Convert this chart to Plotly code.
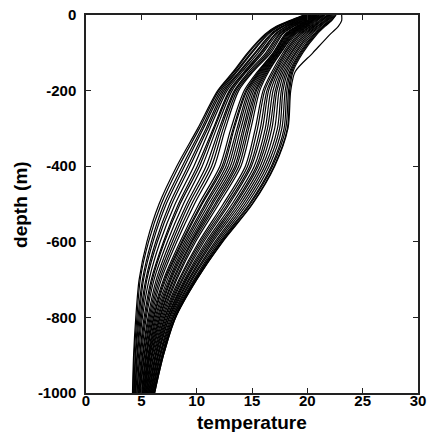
import plotly.graph_objects as go

depths = [0, -15, -30, -50, -100, -150, -200, -300, -400, -500, -600, -700, -800, -900, -1000]

group_a = [
    [19.7, 18.4, 17.2, 16.2, 14.6, 13.3, 11.9, 10.1, 8.2, 6.6, 5.5, 4.8, 4.5, 4.3, 4.2],
    [19.75, 18.5, 17.3, 16.3, 14.7, 13.4, 12.0, 10.25, 8.4, 6.8, 5.65, 4.9, 4.6, 4.35, 4.25],
    [19.8, 18.6, 17.4, 16.4, 14.9, 13.55, 12.15, 10.45, 8.7, 7.05, 5.9, 5.1, 4.7, 4.45, 4.3],
    [19.85, 18.65, 17.5, 16.5, 15.0, 13.65, 12.3, 10.6, 8.9, 7.25, 6.05, 5.2, 4.8, 4.5, 4.35],
    [19.9, 18.8, 17.7, 16.7, 15.25, 13.85, 12.45, 10.85, 9.2, 7.55, 6.3, 5.4, 4.9, 4.6, 4.4],
    [19.95, 18.85, 17.8, 16.8, 15.35, 13.95, 12.6, 11.0, 9.4, 7.75, 6.45, 5.5, 5.0, 4.65, 4.45],
    [20.0, 19.0, 17.9, 16.9, 15.55, 14.1, 12.75, 11.2, 9.75, 8.05, 6.7, 5.7, 5.1, 4.75, 4.5],
    [20.1, 19.1, 18.1, 17.1, 15.75, 14.3, 12.95, 11.5, 10.05, 8.35, 7.0, 5.9, 5.25, 4.85, 4.6],
    [20.1, 19.2, 18.15, 17.15, 15.85, 14.4, 13.05, 11.6, 10.25, 8.5, 7.1, 6.0, 5.35, 4.9, 4.6],
    [20.2, 19.3, 18.3, 17.3, 16.0, 14.5, 13.2, 11.8, 10.5, 8.8, 7.35, 6.15, 5.45, 5.0, 4.7],
    [20.25, 19.4, 18.45, 17.45, 16.25, 14.7, 13.4, 12.05, 10.85, 9.1, 7.6, 6.35, 5.6, 5.1, 4.75],
    [20.3, 19.5, 18.55, 17.55, 16.4, 14.85, 13.5, 12.2, 11.1, 9.3, 7.8, 6.5, 5.7, 5.15, 4.8],
    [20.35, 19.6, 18.7, 17.7, 16.55, 15.0, 13.65, 12.4, 11.35, 9.55, 8.0, 6.65, 5.8, 5.25, 4.85],
    [20.4, 19.7, 18.8, 17.8, 16.7, 15.1, 13.8, 12.6, 11.6, 9.8, 8.2, 6.8, 5.9, 5.3, 4.9],
]

group_b = [
    [20.5, 19.8, 19.0, 18.0, 16.9, 15.5, 14.3, 13.1, 12.1, 10.2, 8.5, 7.0, 6.0, 5.4, 5.0],
    [20.55, 19.9, 19.1, 18.1, 16.95, 15.6, 14.45, 13.3, 12.3, 10.4, 8.65, 7.1, 6.1, 5.45, 5.05],
    [20.6, 19.95, 19.15, 18.15, 17.05, 15.7, 14.55, 13.4, 12.45, 10.5, 8.75, 7.2, 6.15, 5.5, 5.1],
    [20.7, 20.05, 19.25, 18.25, 17.1, 15.8, 14.7, 13.65, 12.65, 10.75, 8.9, 7.35, 6.25, 5.6, 5.15],
    [20.75, 20.1, 19.35, 18.35, 17.2, 15.9, 14.85, 13.8, 12.85, 10.9, 9.05, 7.5, 6.35, 5.65, 5.2],
    [20.8, 20.2, 19.45, 18.45, 17.25, 16.0, 15.0, 14.0, 13.05, 11.1, 9.2, 7.6, 6.45, 5.7, 5.25],
    [20.85, 20.3, 19.55, 18.55, 17.3, 16.1, 15.15, 14.2, 13.25, 11.3, 9.35, 7.7, 6.55, 5.75, 5.3],
    [20.9, 20.35, 19.6, 18.6, 17.4, 16.2, 15.3, 14.35, 13.45, 11.45, 9.5, 7.85, 6.65, 5.8, 5.35],
    [21.0, 20.45, 19.7, 18.7, 17.45, 16.3, 15.4, 14.55, 13.6, 11.65, 9.6, 7.95, 6.7, 5.9, 5.4],
    [21.05, 20.5, 19.8, 18.8, 17.55, 16.4, 15.55, 14.7, 13.8, 11.8, 9.75, 8.1, 6.8, 5.95, 5.45],
    [21.1, 20.6, 19.9, 18.9, 17.6, 16.5, 15.7, 14.9, 14.0, 12.0, 9.9, 8.2, 6.9, 6.0, 5.5],
]

group_c = [
    [21.2, 20.7, 20.0, 19.0, 17.8, 16.8, 16.0, 15.3, 14.4, 12.4, 10.2, 8.4, 7.0, 6.1, 5.55],
    [21.3, 20.8, 20.1, 19.15, 17.95, 16.95, 16.15, 15.5, 14.6, 12.6, 10.35, 8.5, 7.1, 6.15, 5.6],
    [21.4, 20.9, 20.25, 19.3, 18.05, 17.1, 16.35, 15.75, 14.8, 12.8, 10.5, 8.65, 7.15, 6.25, 5.65],
    [21.5, 21.05, 20.35, 19.4, 18.2, 17.2, 16.5, 15.95, 14.95, 12.95, 10.65, 8.75, 7.25, 6.3, 5.7],
    [21.6, 21.15, 20.5, 19.55, 18.35, 17.35, 16.7, 16.2, 15.2, 13.2, 10.85, 8.9, 7.35, 6.35, 5.75],
    [21.75, 21.25, 20.6, 19.7, 18.5, 17.5, 16.9, 16.4, 15.4, 13.4, 11.0, 9.0, 7.4, 6.45, 5.8],
    [21.85, 21.35, 20.7, 19.85, 18.6, 17.65, 17.1, 16.6, 15.55, 13.55, 11.15, 9.1, 7.5, 6.5, 5.85],
    [21.95, 21.5, 20.85, 20.0, 18.75, 17.8, 17.25, 16.8, 15.75, 13.75, 11.3, 9.25, 7.55, 6.55, 5.9],
    [22.05, 21.6, 20.95, 20.15, 18.9, 17.95, 17.45, 17.05, 15.95, 13.95, 11.45, 9.35, 7.65, 6.65, 5.95],
    [22.15, 21.7, 21.1, 20.3, 19.0, 18.1, 17.65, 17.3, 16.15, 14.15, 11.65, 9.5, 7.75, 6.7, 6.0],
    [22.25, 21.8, 21.2, 20.45, 19.15, 18.25, 17.8, 17.5, 16.35, 14.35, 11.8, 9.6, 7.85, 6.75, 6.05],
    [22.35, 21.95, 21.35, 20.6, 19.3, 18.4, 18.0, 17.7, 16.55, 14.55, 11.95, 9.75, 7.9, 6.85, 6.1],
    [22.45, 22.05, 21.45, 20.7, 19.4, 18.5, 18.15, 17.9, 16.75, 14.75, 12.1, 9.85, 8.0, 6.9, 6.15],
    [22.55, 22.15, 21.5, 20.8, 19.5, 18.6, 18.3, 18.05, 16.85, 14.85, 12.2, 9.9, 8.05, 6.95, 6.15],
    [22.6, 22.2, 21.6, 20.9, 19.6, 18.7, 18.4, 18.2, 17.0, 15.0, 12.3, 10.0, 8.1, 7.0, 6.2],
]

outlier = [23.1, 23.1, 22.8, 22.1, 20.5, 18.9, 18.5, 18.25, 17.05, 15.05, 12.35, 10.0, 8.1, 7.0, 6.2]

x_ticks = [0, 5, 10, 15, 20, 25, 30]
x_ticktext = ["0", "5", "10", "15", "20", "25", "30"]
y_ticks = [0, -200, -400, -600, -800, -1000]
y_ticktext = ["0", "-200", "-400", "-600", "-800", "-1000"]
x_title = "temperature"
y_title = "depth (m)"

fig = go.Figure()
for prof in group_a + group_b + group_c + [outlier]:
    fig.add_trace(go.Scatter(
        x=prof, y=depths, mode="lines",
        line=dict(color="black", width=1.2, shape="spline", smoothing=0.8),
        showlegend=False, hoverinfo="skip",
    ))

font_family = "Liberation Sans, Arial, sans-serif"
axis_common = dict(
    showgrid=False, zeroline=False, showline=True, linecolor="#222",
    linewidth=1.5, mirror="ticks", ticks="inside", ticklen=5,
    tickwidth=1.2, tickcolor="#222", automargin=False,
    tickfont=dict(family=font_family, size=15, color="black", weight="bold"),
)

fig.update_layout(
    width=428, height=432,
    margin=dict(l=86, r=10, t=15, b=39),
    paper_bgcolor="white", plot_bgcolor="white",
    xaxis=dict(range=[0, 30], tickvals=x_ticks, ticktext=x_ticktext,
               ticklabelstandoff=-7, **axis_common),
    yaxis=dict(range=[-1000, 0], tickvals=y_ticks, ticktext=y_ticktext,
               ticklabelstandoff=5, **axis_common),
    annotations=[
        dict(text=x_title, xref="paper", yref="paper", x=0.5, y=-0.077,
             xanchor="center", yanchor="middle", showarrow=False, borderpad=0,
             font=dict(family=font_family, size=19, color="black", weight="bold")),
        dict(text=y_title, xref="paper", yref="paper", x=-0.199, y=0.5,
             xanchor="center", yanchor="middle", showarrow=False, textangle=-90,
             font=dict(family=font_family, size=19, color="black", weight="bold")),
    ],
)

fig.write_html("out.html")
